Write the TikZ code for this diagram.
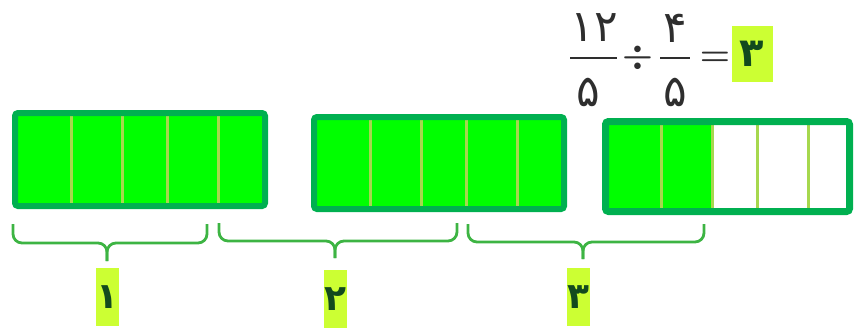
\documentclass[tikz,border=0pt]{standalone}
\usepackage{fontspec}
\usepackage{amsmath}
\usetikzlibrary{positioning}
\newfontfamily\pfont[Script=Arabic]{DejaVu Sans}
\definecolor{barfill}{HTML}{00FF00}
\definecolor{barline}{HTML}{00B050}
\definecolor{cutline}{HTML}{A6D84E}
\definecolor{braceline}{HTML}{3DB443}
\definecolor{numfill}{HTML}{CCFF33}
\definecolor{numtext}{HTML}{124A1E}
\definecolor{eqtext}{HTML}{2E2E2E}
\tikzstyle{bar} = [draw=barline, line width=3pt, rounded corners=1.5pt]
\tikzstyle{cut} = [draw=cutline, line width=1.5pt]
\tikzstyle{brc} = [draw=braceline, line width=1.4pt, rounded corners=4.5pt]
\tikzstyle{num} = [fill=numfill, inner sep=0, minimum width=11.5pt, minimum height=29pt, text=numtext, font=\pfont\bfseries\fontsize{18}{18}\selectfont]
\tikzstyle{ans} = [num, minimum width=20.5pt, minimum height=28pt, font=\pfont\bfseries\fontsize{20}{20}\selectfont]
\tikzstyle{dig} = [draw=none, inner sep=0, text=eqtext, font=\pfont\fontsize{22}{22}\selectfont]
\tikzstyle{sym} = [draw=none, inner sep=0, text=eqtext, font=\boldmath\fontsize{17}{17}\selectfont]
\tikzstyle{rule} = [draw=eqtext, line width=1.2pt]

\begin{document}
\begin{tikzpicture}[x=0.5pt, y=-0.5pt]
\useasboundingbox (0,0) rectangle (854,332);
% first bar
\fill [barfill] (15,113) rectangle (265,206);
\draw [cut] (71,113) -- (71,206);
\draw [cut] (122,113) -- (122,206);
\draw [cut] (167,113) -- (167,206);
\draw [cut] (218,113) -- (218,206);
\draw [bar] (15,113) rectangle (265,206);
% second bar
\fill [barfill] (314,117) rectangle (564,209);
\draw [cut] (370,117) -- (370,209);
\draw [cut] (421,117) -- (421,209);
\draw [cut] (466,117) -- (466,209);
\draw [cut] (517,117) -- (517,209);
\draw [bar] (314,117) rectangle (564,209);
% third bar, two fifths coloured
\fill [barfill] (605,121) rectangle (712,212);
\draw [cut] (661,121) -- (661,212);
\draw [cut] (712,121) -- (712,212);
\draw [cut] (757,121) -- (757,212);
\draw [cut] (808,121) -- (808,212);
\draw [bar, line width=3.5pt] (605.5,121.5) rectangle (849.5,211.5);

% braces
\coordinate (b1l) at (13,224);
\coordinate (b1r) at (207,224);
\coordinate (m1) at (107,243);
\coordinate (t1) at (107,261);
\coordinate (b2l) at (219,223);
\coordinate (b2r) at (457,223);
\coordinate (m2) at (335,241);
\coordinate (t2) at (335,258);
\coordinate (b3l) at (468,224);
\coordinate (b3r) at (704,224);
\coordinate (m3) at (583,242);
\coordinate (t3) at (583,259);
\draw [brc] (b1l) |- (m1) -- (t1);
\draw [brc] (b1r) |- (m1) -- (t1);
\draw [brc] (b2l) |- (m2) -- (t2);
\draw [brc] (b2r) |- (m2) -- (t2);
\draw [brc] (b3l) |- (m3) -- (t3);
\draw [brc] (b3r) |- (m3) -- (t3);

\node [num] (n1) at (107,297) {۱};
\node [num] (n2) at (335,299) {۲};
\node [num] (n3) at (578,297) {۳};

% division
\node [dig] (a1) at (594,28) {۱۲};
\node [dig] (d1) at (588,92) {۵};
\draw [rule] (570,58) -- (617,58);
\node [sym] (dv) at (638,58) {$\div$};
\node [dig] (a2) at (675,28) {۴};
\node [dig] (d2) at (675,92) {۵};
\draw [rule] (660,58) -- (690,58);
\node [sym] (eq) at (715,59) {$=$};
\node [ans] (r) at (752,54) {۳};
\end{tikzpicture}
\end{document}
